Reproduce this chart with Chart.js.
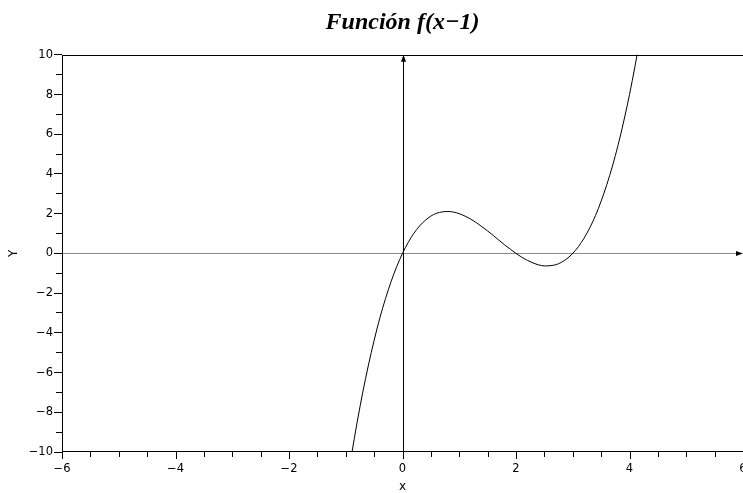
<!DOCTYPE html>
<html><head><meta charset="utf-8">
<script src="https://cdn.jsdelivr.net/npm/chart.js@4/dist/chart.umd.min.js"></script>
<style>html,body{margin:0;padding:0;background:#fff;overflow:hidden;}canvas{display:block;}</style>
</head><body>
<canvas id="c" width="743" height="493"></canvas>
<script>
// ---- data ----
const titleText = 'Función f(x−1)';
const xAxisTitle = 'x';
const yAxisTitle = 'Y';
const xValues = [-0.9,-0.8,-0.7,-0.6,-0.5,-0.4,-0.3,-0.2,-0.1,0,0.1,0.2,0.3,0.4,0.5,0.6,0.7,0.8,0.9,1.0,1.1,1.2,1.3,1.4,1.5,1.6,1.7,1.8,1.9,2.0,2.1,2.2,2.3,2.4,2.5,2.6,2.7,2.8,2.9,3.0,3.1,3.2,3.3,3.4,3.5,3.6,3.7,3.8,3.9,4.0,4.1,4.2];
const yValues = [-10.18,-8.51,-6.99,-5.62,-4.38,-3.26,-2.28,-1.41,-0.65,0,0.55,1.01,1.38,1.66,1.88,2.02,2.09,2.11,2.08,2.0,1.88,1.73,1.55,1.34,1.13,0.90,0.66,0.43,0.21,0,-0.19,-0.35,-0.48,-0.58,-0.63,-0.62,-0.57,-0.45,-0.26,0,0.34,0.77,1.29,1.90,2.63,3.46,4.40,5.47,6.67,8.0,9.47,11.09];
const xRange = [-6, 6];
const yRange = [-10, 10];
const xMajorTicks = [-6,-4,-2,0,2,4,6];
const xMinorTicks = [-5.5,-5,-4.5,-3.5,-3,-2.5,-1.5,-1,-0.5,0.5,1,1.5,2.5,3,3.5,4.5,5,5.5];
const yMajorTicks = [-10,-8,-6,-4,-2,0,2,4,6,8,10];
const yMinorTicks = [-9,-7,-5,-3,-1,1,3,5,7,9];

const fmt = v => (v < 0 ? '\u2212' + Math.abs(v) : String(v));
const tickFont = {family: 'DejaVu Sans', size: 11.5};

const axesPlugin = {
  id: 'axesPlugin',
  beforeDatasetsDraw(chart) {
    const {ctx, chartArea: a, scales: {x, y}} = chart;
    const px = Math.round(x.getPixelForValue(0));
    const py = Math.floor(y.getPixelForValue(0));
    ctx.save();
    ctx.fillStyle = '#8a8a8a';
    ctx.fillRect(a.left, py, a.right - a.left - 4, 1);
    ctx.fillStyle = '#000';
    ctx.fillRect(px, a.top + 4, 1, a.bottom - a.top - 4);
    ctx.beginPath(); ctx.moveTo(px + 0.5, a.top); ctx.lineTo(px - 2, a.top + 7); ctx.lineTo(px + 3, a.top + 7); ctx.closePath(); ctx.fill();
    ctx.beginPath(); ctx.moveTo(a.right, py + 0.5); ctx.lineTo(a.right - 7, py - 2); ctx.lineTo(a.right - 7, py + 3); ctx.closePath(); ctx.fill();
    ctx.restore();
  },
  afterDraw(chart) {
    const {ctx, chartArea: a, scales: {x, y}} = chart;
    ctx.save();
    ctx.fillStyle = '#000';
    const L = Math.round(a.left), R = Math.round(a.right), T = Math.round(a.top), B = Math.round(a.bottom) - 1;
    // frame
    ctx.fillRect(L, T, R - L + 1, 1);
    ctx.fillRect(L, B, R - L + 1, 1);
    ctx.fillRect(L, T, 1, B - T + 1);
    ctx.fillRect(R, T, 1, B - T + 1);
    // tick marks
    x.ticks.forEach(t => {
      const p = Math.round(x.getPixelForValue(t.value));
      const len = xMajorTicks.includes(t.value) ? 7 : 5;
      ctx.fillRect(p, B + 1, 1, len);
    });
    y.ticks.forEach(t => {
      const p = Math.floor(y.getPixelForValue(t.value));
      const len = yMajorTicks.includes(t.value) ? 8 : 6;
      ctx.fillRect(L - len, p, len, 1);
    });
    ctx.restore();
  }
};

new Chart(document.getElementById('c'), {
  type: 'line',
  data: {
    datasets: [{
      data: xValues.map((v, i) => ({x: v, y: yValues[i]})),
      borderColor: '#000',
      borderWidth: 1,
      pointRadius: 0,
      fill: false,
      cubicInterpolationMode: 'monotone'
    }]
  },
  options: {
    responsive: false,
    animation: false,
    devicePixelRatio: 1,
    layout: {padding: 0},
    plugins: {
      legend: {display: false},
      tooltip: {enabled: false},
      title: {
        display: true, text: titleText, fullSize: false, align: 'center', color: '#000',
        font: {family: 'Liberation Serif', size: 24, style: 'italic', weight: 'bold', lineHeight: 1.2},
        padding: {top: 8, bottom: 18}
      }
    },
    scales: {
      x: {
        type: 'linear', min: xRange[0], max: xRange[1],
        afterBuildTicks: s => { s.ticks = [...xMajorTicks, ...xMinorTicks].sort((p, q) => p - q).map(v => ({value: v})); },
        afterFit: s => { s.height = 41; s.paddingLeft = 0; s.paddingRight = 0; },
        grid: {display: false, drawTicks: false},
        border: {display: false},
        ticks: {autoSkip: false, maxRotation: 0, minRotation: 0, padding: 10, color: '#000', font: tickFont,
          callback: v => xMajorTicks.includes(v) ? fmt(v) : ''},
        title: {display: true, text: xAxisTitle, color: '#000', font: {family: 'DejaVu Sans', size: 12, lineHeight: 1}, padding: {top: 0, bottom: 0}}
      },
      y: {
        type: 'linear', min: yRange[0], max: yRange[1],
        afterBuildTicks: s => { s.ticks = [...yMajorTicks, ...yMinorTicks].sort((p, q) => p - q).map(v => ({value: v})); },
        afterFit: s => { s.width = 62; s.paddingTop = 0; s.paddingBottom = 0; },
        grid: {display: false, drawTicks: false},
        border: {display: false},
        ticks: {autoSkip: false, padding: 9, color: '#000', font: tickFont,
          callback: v => yMajorTicks.includes(v) ? fmt(v) : ''},
        title: {display: true, text: yAxisTitle, color: '#000', font: {family: 'DejaVu Sans', size: 12}, padding: {top: 7, bottom: 0}}
      }
    }
  },
  plugins: [axesPlugin]
});
</script>
</body></html>
